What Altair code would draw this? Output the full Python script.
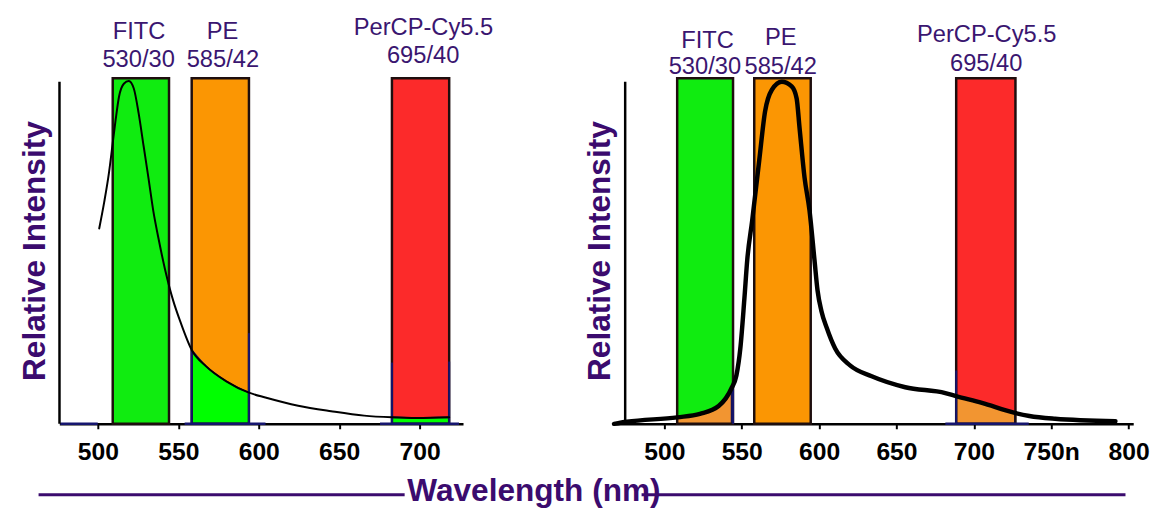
import altair as alt
import pandas as pd

FONT = "Liberation Sans"
PURPLE = "#3b0b6e"
LABELC = "#3a1670"
NAVY = "#15156e"
BORDER = "#1e0e0e"

# ---------------- data ----------------
names = ["FITC", "PE", "PerCP-Cy5.5"]
filters = ["530/30", "585/42", "695/40"]
band_colors = ["#10ec10", "#fb9603", "#fc2a2a"]
band_top = 1.01

# left panel: FITC emission spectrum
fitc_wl = [500.8, 503.9, 506.9, 509.0, 511.0, 513.1, 516.1, 519.2, 522.3, 525.3,
           528.4, 531.5, 534.5, 537.6, 541.7, 546.8, 550.9, 558.3, 567.3, 579.6,
           593.9, 604.1, 624.5, 645.0, 665.5, 682.8, 698.2, 718.4]
fitc_int = [0.571, 0.648, 0.735, 0.813, 0.888, 0.956, 0.994, 1.002, 0.980, 0.908,
            0.812, 0.716, 0.620, 0.543, 0.452, 0.360, 0.303, 0.216, 0.168, 0.125,
            0.091, 0.077, 0.053, 0.037, 0.024, 0.019, 0.017, 0.019]
left_lo = [509.2, 558.3, 682.8]
left_hi = [544.2, 593.9, 718.4]
left_fill_bands = [1, 2]          # PE and PerCP bands filled (green)
left_ticks = [500, 550, 600, 650, 700]

# right panel: PE emission spectrum
pe_wl = [467.5, 475.8, 508.3, 523.0, 535.1, 543.4, 546.6, 549.1, 551.7, 553.6,
         556.8, 561.3, 565.1, 569.6, 575.9, 582.3, 585.5, 587.4, 590.6, 593.8,
         597.0, 599.0, 601.5, 605.0, 610.4, 620.0, 634.0, 655.7, 681.6, 688.6,
         705.2, 726.5, 735.9, 752.5, 791.5]
pe_int = [0.0, 0.006, 0.019, 0.029, 0.052, 0.104, 0.142, 0.220, 0.364, 0.480,
          0.595, 0.769, 0.913, 0.977, 1.0, 0.986, 0.951, 0.864, 0.720, 0.624,
          0.480, 0.390, 0.330, 0.280, 0.220, 0.171, 0.139, 0.107, 0.090, 0.081,
          0.061, 0.032, 0.023, 0.015, 0.008]
right_lo = [508.3, 558.1, 688.6]
right_hi = [544.4, 594.6, 726.9]
right_fill_bands = [0, 2]         # FITC and PerCP bands filled (orange)
right_ticks = [500, 550, 600, 650, 700, 750, 800]

# band label anchors (wavelength, intensity units)
left_name_x = [525.6, 577.4, 702.4]
left_name_y = [1.125, 1.125, 1.137]
left_filt_x = [525.3, 577.7, 702.2]
left_filt_y = [1.044, 1.044, 1.055]
right_name_x = [527.9, 575.2, 708.3]
right_name_y = [1.098, 1.108, 1.115]
right_filt_x = [526.2, 575.2, 708.0]
right_filt_y = [1.023, 1.023, 1.031]

# navy outline details
left_navy_vx = [558.3, 593.9, 682.8, 718.4]
left_navy_vh = [0.216, 0.265, 0.179, 0.182]
left_navy_hx = [476.6, 553.9, 675.4]
left_navy_hx2 = [499.9, 604.2, 724.5]
right_navy_vx = [544.4, 688.6]
right_navy_vh = [0.110, 0.156]
right_navy_hx = [681.6]
right_navy_hx2 = [735.5]


def panel(wl, inten, lo, hi, fill_idx, fill_color, xdom, width, ticks,
          line_w, yaxis_x, title_x, nvx, nvh, nhx, nhx2,
          nx, ny, fx, fy, bottom_seg, label_expr, extra=None):
    xs = alt.Scale(domain=xdom, nice=False, zero=False)
    ys = alt.Scale(domain=[0, 1.2], nice=False, zero=True)
    xaxis = alt.Axis(values=ticks, title=None, grid=False,
                     labelFont=FONT, labelFontSize=25, labelFontWeight="bold",
                     labelColor="black", labelPadding=11, labelExpr=label_expr,
                     domainColor="black", domainWidth=2.5,
                     tickColor="black", tickWidth=2, tickSize=5)
    yaxis = alt.Axis(title="Relative Intensity", domain=False, ticks=False,
                     labels=False, grid=False, titleFont=FONT, titleFontSize=32,
                     titleFontWeight="bold", titleColor=PURPLE,
                     titleX=title_x, titleY=240.5)

    def X(f):
        return alt.X(f, scale=xs, axis=xaxis)

    def Y(f):
        return alt.Y(f, scale=ys, axis=yaxis)

    curve = pd.DataFrame({"wl": wl, "inten": inten})
    bands = pd.DataFrame({"name": names, "lo": lo, "hi": hi,
                          "y0": [0.0] * 3, "top": [band_top] * 3})

    band_fill = alt.Chart(bands).mark_rect().encode(
        x=X("lo:Q"), x2="hi:Q", y=Y("y0:Q"), y2="top:Q",
        color=alt.Color("name:N", scale=alt.Scale(domain=names, range=band_colors),
                        legend=None),
    )
    layers = [band_fill]
    for i in fill_idx:
        layers.append(
            alt.Chart(curve)
            .transform_filter(f"datum.wl >= {lo[i]} && datum.wl <= {hi[i]}")
            .mark_area(fill=fill_color, stroke=NAVY, strokeWidth=1.5,
                       interpolate="monotone")
            .encode(x=X("wl:Q"), y=Y("inten:Q"))
        )
    band_border = alt.Chart(bands).mark_rect(
        fillOpacity=0, stroke=BORDER, strokeWidth=2.5).encode(
        x=X("lo:Q"), x2="hi:Q", y=Y("y0:Q"), y2="top:Q")
    layers.append(band_border)

    nv = pd.DataFrame({"x": nvx, "h": nvh, "y0": [0.0] * len(nvx)})
    layers.append(alt.Chart(nv).mark_rule(color=NAVY, strokeWidth=2).encode(
        x=X("x:Q"), y=Y("y0:Q"), y2="h:Q"))
    nh = pd.DataFrame({"x": nhx, "x2": nhx2, "y0": [0.0] * len(nhx)})
    layers.append(alt.Chart(nh).mark_rule(color=NAVY, strokeWidth=2.5).encode(
        x=X("x:Q"), x2="x2:Q", y=Y("y0:Q")))

    layers.append(alt.Chart(curve).mark_line(
        color="black", strokeWidth=line_w, interpolate="monotone",
        strokeCap="round", strokeJoin="round").encode(
        x=X("wl:Q"), y=Y("inten:Q")))

    ya = pd.DataFrame({"x": [yaxis_x], "y0": [0.0], "y1": [1.0]})
    layers.append(alt.Chart(ya).mark_rule(color="black", strokeWidth=2.5).encode(
        x=X("x:Q"), y=Y("y0:Q"), y2="y1:Q"))

    lab = pd.DataFrame({"t": names + filters, "x": nx + fx, "y": ny + fy})
    layers.append(alt.Chart(lab).mark_text(
        font=FONT, fontSize=24, color=LABELC, align="center",
        baseline="alphabetic").encode(
        x=X("x:Q"), y=Y("y:Q"), text="t:N"))

    seg = pd.DataFrame({"x": [bottom_seg[0]], "x2": [bottom_seg[1]],
                        "y": [bottom_seg[2]]})
    layers.append(alt.Chart(seg).mark_rule(color=PURPLE, strokeWidth=3).encode(
        x=X("x:Q"), x2="x2:Q", y=Y("y:Q")))

    if extra is not None:
        ex = pd.DataFrame({"t": [extra[0]], "x": [extra[1]], "y": [extra[2]]})
        layers.append(alt.Chart(ex).mark_text(
            font=FONT, fontSize=32, fontWeight="bold", color=PURPLE,
            align="center", baseline="alphabetic").encode(
            x=X("x:Q"), y=Y("y:Q"), text="t:N"))

    return alt.layer(*layers).properties(width=width, height=416)


left = panel(fitc_wl, fitc_int, left_lo, left_hi, left_fill_bands, "#00ff00",
             [476, 727], 409, left_ticks, 2, 476.1, -8.5,
             left_navy_vx, left_navy_vh, left_navy_hx, left_navy_hx2,
             left_name_x, left_name_y, left_filt_x, left_filt_y,
             (463.1, 690.7, -0.207), "datum.label",
             extra=("Wavelength (nm)", 771.1, -0.2245))

right = panel(pe_wl, pe_int, right_lo, right_hi, right_fill_bands, "#f29531",
              [467.5, 803], 526, right_ticks, 4.5, 474.7, 2,
              right_navy_vx, right_navy_vh, right_navy_hx, right_navy_hx2,
              right_name_x, right_name_y, right_filt_x, right_filt_y,
              (485.3, 798.0, -0.207),
              "datum.value == 750 ? '750n' : datum.label")

chart = alt.hconcat(left, right, spacing=153, bounds="flush").properties(
    padding={"left": 10, "top": 2, "right": 0, "bottom": 0}
).configure_view(strokeWidth=0)

chart.save("out.html", embed_options={"renderer": "svg", "actions": False})
